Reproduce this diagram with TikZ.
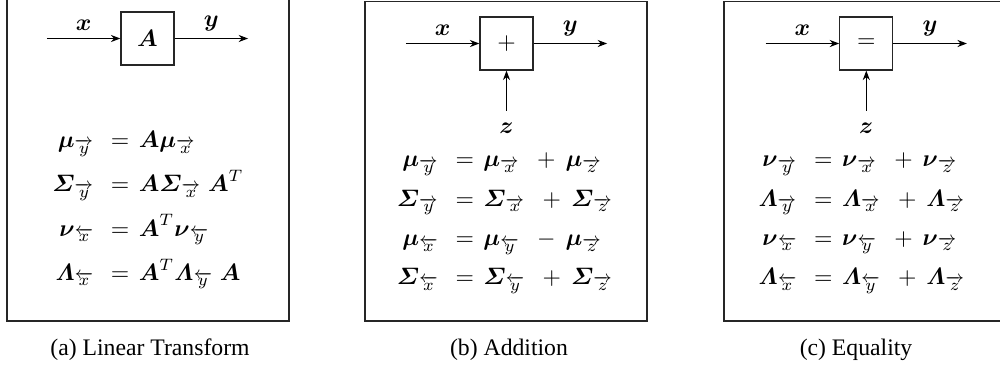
\documentclass[tikz,border=0pt]{standalone}
\usepackage{amsmath}
\usepackage[no-math]{fontspec}
\setmainfont{Liberation Serif}
\usetikzlibrary{arrows.meta,positioning}
\newcommand{\bv}[1]{\boldsymbol{#1}}
\newcommand{\fwdm}[1]{\overrightarrow{#1}}
\newcommand{\bwdm}[1]{\overleftarrow{#1}}
\newcommand{\opgap}[1]{\hspace{5pt}#1\hspace{2pt}}
\tikzset{
  every picture/.style={line width=0.5pt},
  frame/.style={draw=black!85, line width=0.6pt},
  blk/.style={draw=black!85, minimum size=22.4pt, inner sep=0pt},
  sig/.style={-{Stealth[length=4pt,width=3pt]}, line width=0.5pt},
  lbl/.style={inner sep=3pt},
  eqs/.style={inner sep=0pt},
  captxt/.style={font=\rmfamily, inner sep=0pt},
}

\begin{document}
\begin{tikzpicture}[x=0.422pt, y=-0.422pt]
  \useasboundingbox (0,0) rectangle (1000,375);
  % (a) linear transform
  \draw[frame] (7,-5) rectangle (289,321);
  \node[blk] (blkA) at (147.5,38.5) {$\bv{A}$};
  \coordinate[left=31pt of blkA] (inA); \coordinate[right=31pt of blkA] (outA);
  \draw[sig] (inA) -- node[lbl, above] {$\bv{x}$} (blkA);
  \draw[sig] (blkA) -- node[lbl, above] {$\bv{y}$} (outA);
  \node[eqs] (eqA) at (148,205) {\renewcommand{\arraystretch}{1.56}$\begin{array}{r@{\hspace{7pt}}c@{\hspace{4pt}}l}
    \bv{\mu}_{\fwdm{y}} & = & \bv{A}\bv{\mu}_{\fwdm{x}} \\
    \bv{\varSigma}_{\fwdm{y}} & = & \bv{A}\bv{\varSigma}_{\fwdm{x}}\; \bv{A}^T \\
    \bv{\nu}_{\bwdm{x}} & = & \bv{A}^T\bv{\nu}_{\bwdm{y}} \\
    \bv{\varLambda}_{\bwdm{x}} & = & \bv{A}^T\bv{\varLambda}_{\bwdm{y}}\; \bv{A}
  \end{array}$};
  \node[captxt] (capA) at (150,350) {(a) Linear Transform};
  % (b) addition
  \draw[frame] (365,1.5) rectangle (647,321);
  \node[blk] (blkB) at (506.5,43.5) {$+$};
  \coordinate[left=31pt of blkB] (inB); \coordinate[right=31pt of blkB] (outB);
  \coordinate[below=16.9pt of blkB] (zB);
  \draw[sig] (inB) -- node[lbl, above] {$\bv{x}$} (blkB);
  \draw[sig] (blkB) -- node[lbl, above] {$\bv{y}$} (outB);
  \draw[sig] (zB) -- (blkB);
  \node[lbl, inner sep=2pt, below=3pt of zB] (zlB) {$\bv{z}$};
  \node[eqs] (eqB) at (505,218) {\renewcommand{\arraystretch}{1.38}$\begin{array}{r@{\hspace{7pt}}c@{\hspace{4pt}}l}
    \bv{\mu}_{\fwdm{y}} & = & \bv{\mu}_{\fwdm{x}} \opgap{+} \bv{\mu}_{\fwdm{z}} \\
    \bv{\varSigma}_{\fwdm{y}} & = & \bv{\varSigma}_{\fwdm{x}} \opgap{+} \bv{\varSigma}_{\fwdm{z}} \\
    \bv{\mu}_{\bwdm{x}} & = & \bv{\mu}_{\bwdm{y}} \opgap{-} \bv{\mu}_{\fwdm{z}} \\
    \bv{\varSigma}_{\bwdm{x}} & = & \bv{\varSigma}_{\bwdm{y}} \opgap{+} \bv{\varSigma}_{\fwdm{z}}
  \end{array}$};
  \node[captxt] (capB) at (509,350) {(b) Addition};
  % (c) equality
  \draw[frame] (724,1.5) rectangle (1006,321);
  \node[blk] (blkC) at (866.3,43.5) {$=$};
  \coordinate[left=31pt of blkC] (inC); \coordinate[right=31pt of blkC] (outC);
  \coordinate[below=16.9pt of blkC] (zC);
  \draw[sig] (inC) -- node[lbl, above] {$\bv{x}$} (blkC);
  \draw[sig] (blkC) -- node[lbl, above] {$\bv{y}$} (outC);
  \draw[sig] (zC) -- (blkC);
  \node[lbl, inner sep=2pt, below=3pt of zC] (zlC) {$\bv{z}$};
  \node[eqs] (eqC) at (862,218) {\renewcommand{\arraystretch}{1.38}$\begin{array}{r@{\hspace{7pt}}c@{\hspace{4pt}}l}
    \bv{\nu}_{\fwdm{y}} & = & \bv{\nu}_{\fwdm{x}} \opgap{+} \bv{\nu}_{\fwdm{z}} \\
    \bv{\varLambda}_{\fwdm{y}} & = & \bv{\varLambda}_{\fwdm{x}} \opgap{+} \bv{\varLambda}_{\fwdm{z}} \\
    \bv{\nu}_{\bwdm{x}} & = & \bv{\nu}_{\bwdm{y}} \opgap{+} \bv{\nu}_{\fwdm{z}} \\
    \bv{\varLambda}_{\bwdm{x}} & = & \bv{\varLambda}_{\bwdm{y}} \opgap{+} \bv{\varLambda}_{\fwdm{z}}
  \end{array}$};
  \node[captxt] (capC) at (856,350) {(c) Equality};
\end{tikzpicture}
\end{document}
